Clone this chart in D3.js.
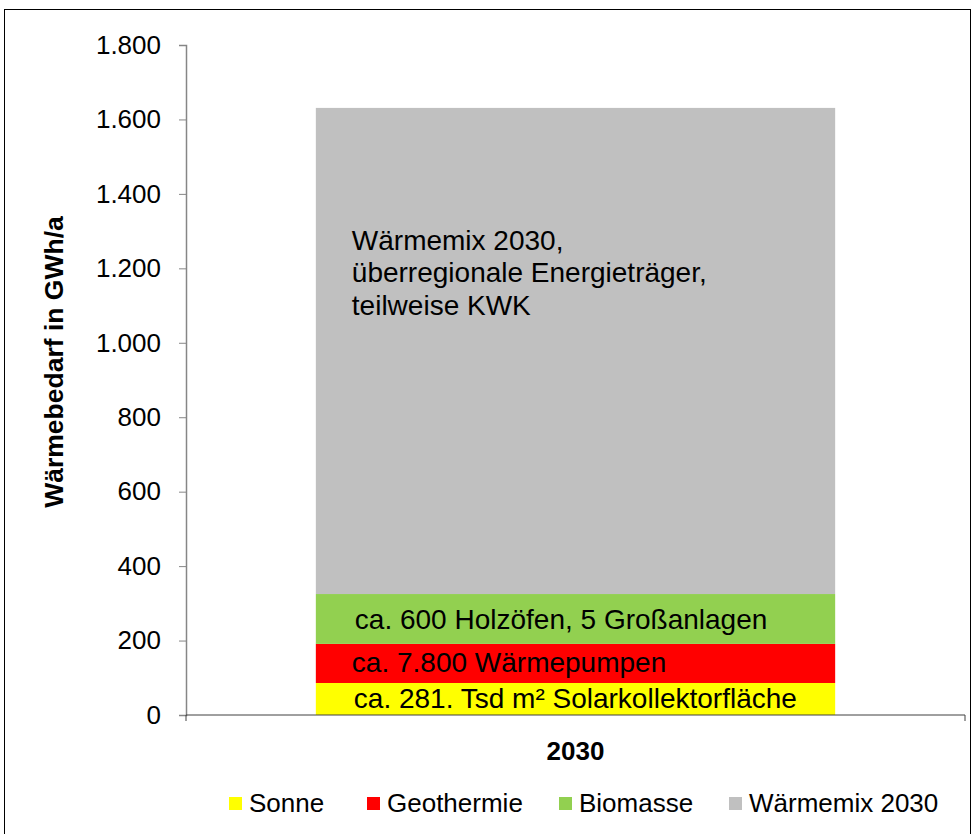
<!DOCTYPE html>
<html>
<head>
<meta charset="utf-8">
<script src="https://cdn.jsdelivr.net/npm/d3@7"></script>
<style>
  html, body { margin: 0; padding: 0; background: #fff; }
  svg { display: block; font-family: "Liberation Sans", Arial, sans-serif; }
</style>
</head>
<body>
<svg id="chart" width="976" height="834"></svg>
<script>
// Heat demand 2030 by source (GWh/a)
const categories = ["2030"];
const seriesNames = ["Sonne", "Geothermie", "Biomasse", "Wärmemix 2030"];
const sonne = [86];
const geothermie = [105];
const biomasse = [134];
const waermemix = [1306];
const seriesColors = ["#FFFF00", "#FF0000", "#92D050", "#C0C0C0"];
const yTicks = [0, 200, 400, 600, 800, 1000, 1200, 1400, 1600, 1800];
const segmentLabels = [
  ["ca. 281. Tsd m² Solarkollektorfläche"],
  ["ca. 7.800 Wärmepumpen"],
  ["ca. 600 Holzöfen, 5 Großanlagen"],
  ["Wärmemix 2030,", "überregionale Energieträger,", "teilweise KWK"]
];
const yTitle = "Wärmebedarf in GWh/a";

const seriesValues = [sonne, geothermie, biomasse, waermemix];

const de = d3.formatLocale({ decimal: ",", thousands: ".", grouping: [3], currency: ["", " €"] });
const fmt = de.format(",d");

const svg = d3.select("#chart");
const FS = 26;      // axis and legend text
const FS_NOTE = 28; // annotations inside the bar

// outer frame
svg.append("rect")
  .attr("x", 4.5).attr("y", 9.5).attr("width", 966).attr("height", 830)
  .attr("fill", "none").attr("stroke", "#000").attr("stroke-width", 1);

const plot = { left: 186, right: 965, top: 45, bottom: 715 };

const x = d3.scaleBand().domain(categories).range([plot.left, plot.right])
  .paddingInner(0).paddingOuter(0.25);
const y = d3.scaleLinear().domain([0, 1800]).range([plot.bottom, plot.top]);

// stacked data
const rows = categories.map((c, i) => {
  const r = { cat: c };
  seriesNames.forEach((s, j) => { r[s] = seriesValues[j][i]; });
  return r;
});
const stacked = d3.stack().keys(seriesNames)(rows);

const g = svg.append("g");
stacked.forEach((layer, j) => {
  g.selectAll(null).data(layer).enter().append("rect")
    .attr("x", d => x(d.data.cat))
    .attr("width", x.bandwidth())
    .attr("y", d => y(d[1]))
    .attr("height", d => y(d[0]) - y(d[1]))
    .attr("fill", seriesColors[j]);
});

// y axis
const yAxis = svg.append("g")
  .attr("transform", `translate(${plot.left},0)`)
  .call(d3.axisLeft(y).tickValues(yTicks).tickFormat(fmt).tickSize(7).tickPadding(18));
yAxis.select(".domain").attr("stroke", "#868686").attr("stroke-width", 1.5);
yAxis.selectAll(".tick line").attr("stroke", "#868686").attr("stroke-width", 1);
yAxis.selectAll(".tick text")
  .attr("font-size", FS).attr("fill", "#000")
  .attr("font-family", "Liberation Sans, Arial, sans-serif");

// x axis
const xAxis = svg.append("g")
  .attr("transform", `translate(0,${plot.bottom})`);
xAxis.append("line")
  .attr("x1", plot.left).attr("x2", plot.right)
  .attr("stroke", "#404040").attr("stroke-width", 1);
[plot.left, plot.right].forEach(px => {
  xAxis.append("line").attr("x1", px).attr("x2", px).attr("y1", 0).attr("y2", 6)
    .attr("stroke", "#404040").attr("stroke-width", 1);
});
xAxis.selectAll(null).data(categories).enter().append("text")
  .attr("x", d => x(d) + x.bandwidth() / 2)
  .attr("y", 45)
  .attr("text-anchor", "middle")
  .attr("font-size", FS).attr("font-weight", "bold")
  .text(d => d);

// y title
svg.append("text")
  .attr("transform", `translate(63,362) rotate(-90)`)
  .attr("text-anchor", "middle")
  .attr("font-size", 26.5).attr("font-weight", "bold")
  .text(yTitle);

// segment annotations
const seg = stacked.map(layer => layer[0]);
const labelPos = [
  { dx: 38, dy: 9 },
  { dx: 36, dy: 9 },
  { dx: 39, dy: 10 }
];
[0, 1, 2].forEach(j => {
  const d = seg[j];
  svg.append("text")
    .attr("x", x(d.data.cat) + labelPos[j].dx)
    .attr("y", (y(d[0]) + y(d[1])) / 2 + labelPos[j].dy)
    .attr("font-size", FS_NOTE)
    .text(segmentLabels[j][0]);
});
const mixText = svg.append("text")
  .attr("x", x(seg[3].data.cat) + 36)
  .attr("y", y(1250))
  .attr("font-size", FS_NOTE);
segmentLabels[3].forEach((line, i) => {
  mixText.append("tspan")
    .attr("x", x(seg[3].data.cat) + 36)
    .attr("dy", i === 0 ? 0 : 32.5)
    .text(line);
});

// legend
const legendX = [229, 367, 559, 729];
const legend = svg.append("g");
seriesNames.forEach((s, j) => {
  legend.append("rect")
    .attr("x", legendX[j]).attr("y", 797)
    .attr("width", 13).attr("height", 13)
    .attr("fill", seriesColors[j]);
  legend.append("text")
    .attr("x", legendX[j] + 20).attr("y", 812)
    .attr("font-size", FS)
    .text(s);
});
</script>
</body>
</html>
